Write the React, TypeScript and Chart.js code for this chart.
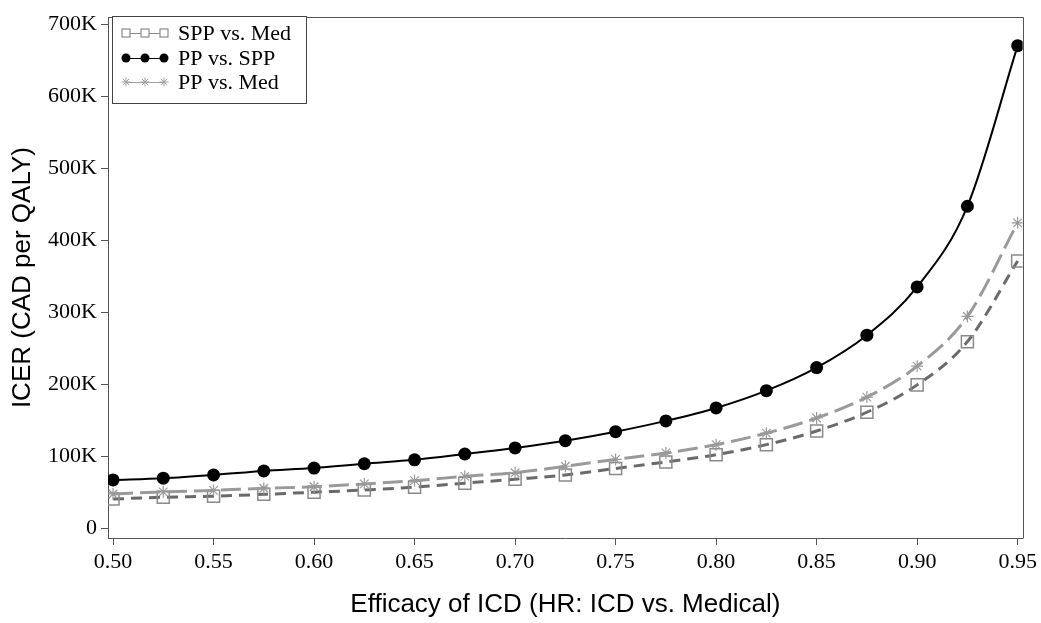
import React, { useEffect, useRef } from 'react';
import { Chart, registerables } from 'chart.js';

Chart.register(...registerables);

// Efficacy of ICD (hazard ratio)
const efficacy = [0.5, 0.525, 0.55, 0.575, 0.6, 0.625, 0.65, 0.675, 0.7, 0.725, 0.75, 0.775, 0.8, 0.825, 0.85, 0.875, 0.9, 0.925, 0.95];

// ICER values in thousands of CAD per QALY
const sppVsMed = [40.5, 43, 44.5, 47, 50, 53, 57, 62.5, 68, 74, 83, 92, 102, 116, 135, 161, 199, 259, 371];
const ppVsSpp = [67, 69.5, 74, 79.5, 83.5, 89.5, 95, 103, 111.5, 121.5, 134, 149, 167, 191, 223, 268, 335, 447, 670];
const ppVsMed = [47.5, 50.5, 52.5, 55.5, 57.5, 61.5, 66, 72, 77, 86, 95.5, 104.5, 116, 132, 153, 182, 225, 294, 424];

const xTicks = [0.5, 0.55, 0.6, 0.65, 0.7, 0.75, 0.8, 0.85, 0.9, 0.95];
const yTicks = [0, 100, 200, 300, 400, 500, 600, 700];

const seriesLabels = ['SPP vs. Med', 'PP vs. SPP', 'PP vs. Med'];

const SERIF = '"Liberation Serif", "DejaVu Serif", serif';
const SANS = '"Liberation Sans", Arial, sans-serif';
const AXIS = '#555555';

const framePlugin = {
  id: 'frame',
  afterDraw(chart: any) {
    const { ctx, chartArea } = chart;
    ctx.save();
    ctx.strokeStyle = AXIS;
    ctx.lineWidth = 1;
    const l = Math.round(chartArea.left) + 0.5;
    const t = Math.round(chartArea.top) + 0.5;
    const r = Math.round(chartArea.right) + 0.5;
    const b = Math.round(chartArea.bottom) + 0.5;
    ctx.beginPath();
    ctx.moveTo(l, t);
    ctx.lineTo(r, t);
    ctx.lineTo(r, b);
    ctx.stroke();
    ctx.restore();
  },
};

function drawMarker(ctx: CanvasRenderingContext2D, style: string, x: number, y: number, color: string) {
  ctx.save();
  ctx.strokeStyle = color;
  ctx.fillStyle = color;
  if (style === 'circle') {
    ctx.beginPath();
    ctx.arc(x, y, 4.5, 0, Math.PI * 2);
    ctx.fill();
  } else if (style === 'rect') {
    ctx.fillStyle = '#ffffff';
    ctx.lineWidth = 1.2;
    ctx.fillRect(x - 4, y - 4, 8, 8);
    ctx.strokeRect(x - 4, y - 4, 8, 8);
  } else {
    ctx.lineWidth = 1;
    const r = 4.5;
    ctx.beginPath();
    for (let k = 0; k < 4; k++) {
      const a = (k * Math.PI) / 4;
      ctx.moveTo(x - r * Math.cos(a), y - r * Math.sin(a));
      ctx.lineTo(x + r * Math.cos(a), y + r * Math.sin(a));
    }
    ctx.stroke();
  }
  ctx.restore();
}

const legendPlugin = {
  id: 'boxLegend',
  afterDraw(chart: any) {
    const { ctx } = chart;
    const styles = ['rect', 'circle', 'star'];
    const colors = ['#8a8a8a', '#000000', '#a0a0a0'];
    const rows = [33, 58, 82];
    ctx.save();
    ctx.fillStyle = '#ffffff';
    ctx.fillRect(113, 17, 194, 87);
    ctx.strokeStyle = '#444444';
    ctx.lineWidth = 1;
    ctx.strokeRect(112.5, 16.5, 194, 87);
    seriesLabels.forEach((label, i) => {
      const y = rows[i];
      ctx.strokeStyle = colors[i];
      ctx.lineWidth = 1;
      ctx.beginPath();
      ctx.moveTo(126, y + 0.5);
      ctx.lineTo(164, y + 0.5);
      ctx.stroke();
      [126, 145, 164].forEach((mx) => drawMarker(ctx, styles[i], mx, y, colors[i]));
      ctx.fillStyle = '#000000';
      ctx.font = `22px ${SERIF}`;
      ctx.textBaseline = 'middle';
      ctx.textAlign = 'left';
      ctx.fillText(label, 178, y + 1);
    });
    ctx.restore();
  },
};

export default function App() {
  const canvasRef = useRef<HTMLCanvasElement | null>(null);

  useEffect(() => {
    document.body.style.margin = '0';
    const canvas = canvasRef.current;
    if (!canvas) return;
    const toPoints = (vals: number[]) => efficacy.map((x, i) => ({ x, y: vals[i] }));
    const chart = new Chart(canvas, {
      type: 'line',
      data: {
        datasets: [
          {
            label: seriesLabels[1],
            data: toPoints(ppVsSpp),
            borderColor: '#000000',
            borderWidth: 2,
            pointStyle: 'circle',
            pointRadius: 6.5,
            pointBackgroundColor: '#000000',
            pointBorderColor: '#000000',
            pointBorderWidth: 0,
            tension: 0.4,
            cubicInterpolationMode: 'monotone',
            fill: false,
          },
          {
            label: seriesLabels[2],
            data: toPoints(ppVsMed),
            borderColor: '#9a9a9a',
            borderWidth: 3,
            borderDash: [20, 7],
            pointStyle: 'star',
            pointRadius: 6,
            pointBorderColor: '#9a9a9a',
            pointBackgroundColor: 'rgba(0,0,0,0)',
            pointBorderWidth: 1.2,
            tension: 0.4,
            cubicInterpolationMode: 'monotone',
            fill: false,
          },
          {
            label: seriesLabels[0],
            data: toPoints(sppVsMed),
            borderColor: '#6a6a6a',
            borderWidth: 3,
            borderDash: [11, 7],
            pointStyle: 'rect',
            pointRadius: 8.5,
            pointBorderColor: '#8a8a8a',
            pointBackgroundColor: 'rgba(0,0,0,0)',
            pointBorderWidth: 1.5,
            tension: 0.4,
            cubicInterpolationMode: 'monotone',
            fill: false,
          },
        ],
      },
      options: {
        animation: false,
        responsive: false,
        maintainAspectRatio: false,
        layout: { padding: { top: 8, right: 18, left: 0, bottom: 0 } },
        plugins: { legend: { display: false }, tooltip: { enabled: false } },
        scales: {
          x: {
            type: 'linear',
            min: 0.4975,
            max: 0.9525,
            afterBuildTicks: (s: any) => {
              s.ticks = xTicks.map((v) => ({ value: v }));
            },
            afterFit: (s: any) => {
              s.height = 85;
            },
            ticks: {
              autoSkip: false,
              maxRotation: 0,
              padding: 4,
              color: '#000000',
              font: { family: SERIF, size: 22 },
              callback: (v: any) => Number(v).toFixed(2),
            },
            grid: { drawOnChartArea: false, drawTicks: true, tickLength: 7, color: AXIS },
            border: { display: true, color: AXIS, width: 1 },
            title: {
              display: true,
              text: 'Efficacy of ICD (HR: ICD vs. Medical)',
              color: '#000000',
              font: { family: SANS, size: 26 },
              padding: { top: 0, bottom: 3 },
            },
          },
          y: {
            type: 'linear',
            min: -13.6,
            max: 709.5,
            afterBuildTicks: (s: any) => {
              s.ticks = yTicks.map((v) => ({ value: v }));
            },
            afterFit: (s: any) => {
              s.width = 108;
            },
            ticks: {
              autoSkip: false,
              padding: 4,
              color: '#000000',
              font: { family: SERIF, size: 22 },
              callback: (v: any) => (Number(v) === 0 ? '0' : `${v}K`),
            },
            grid: { drawOnChartArea: false, drawTicks: true, tickLength: 7, color: AXIS },
            border: { display: true, color: AXIS, width: 1 },
            title: {
              display: true,
              text: 'ICER (CAD per QALY)',
              color: '#000000',
              font: { family: SANS, size: 26 },
              padding: { top: 7, bottom: 0 },
            },
          },
        },
      },
      plugins: [framePlugin, legendPlugin],
    } as any);
    return () => chart.destroy();
  }, []);

  return (
    <div style={{ width: 1041, height: 623, overflow: 'hidden' }}>
      <canvas ref={canvasRef} width={1041} height={623} style={{ display: 'block', width: 1041, height: 623 }} />
    </div>
  );
}
